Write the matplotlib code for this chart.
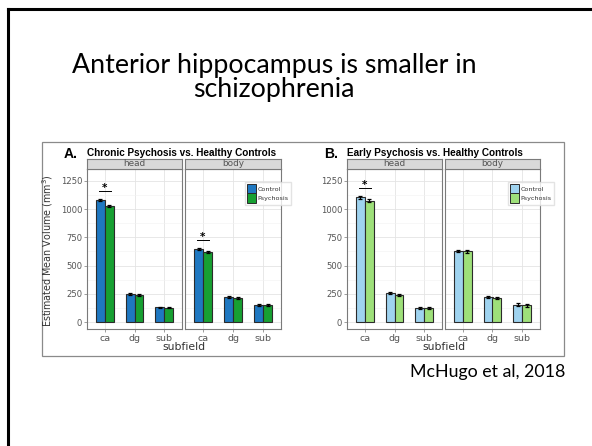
import matplotlib.pyplot as plt
from matplotlib.patches import Rectangle, Patch
from matplotlib.lines import Line2D
import numpy as np

# data (mm^3)
subfields = ["ca", "dg", "sub"]
regions = ["head", "body"]

chronic_head_control = [1080, 245, 130]
chronic_head_psychosis = [1030, 238, 128]
chronic_body_control = [645, 220, 150]
chronic_body_psychosis = [618, 215, 152]
chronic_head_err = [10, 8, 6]
chronic_body_err = [9, 7, 7]

early_head_control = [1105, 255, 128]
early_head_psychosis = [1075, 240, 122]
early_body_control = [630, 222, 155]
early_body_psychosis = [625, 212, 148]
early_head_err = [11, 9, 9]
early_body_err = [10, 10, 13]

# (region, subfield) pairs marked with a star
chronic_sig = [("head", "ca"), ("body", "ca")]
early_sig = [("head", "ca")]

W, H = 592, 446


def rect(x0, y0, x1, y1):
    return [x0 / W, 1 - y1 / H, (x1 - x0) / W, (y1 - y0) / H]


fig = plt.figure(figsize=(W / 100, H / 100), dpi=100)
fig.patch.set_facecolor("white")

# slide frame (top and left edges visible)
fig.add_artist(Line2D([8 / W, 8 / W], [0, 1 - 9 / H], color="black", lw=2.2))
fig.add_artist(Line2D([8 / W, 1], [1 - 9 / H, 1 - 9 / H], color="black", lw=2.2))

fig.text(274 / W, 1 - 66 / H, "Anterior hippocampus is smaller in",
         ha="center", va="center", fontsize=19.3, family="Lato")
fig.text(274 / W, 1 - 89 / H, "schizophrenia",
         ha="center", va="center", fontsize=19.3, family="Lato")
fig.text(565 / W, 1 - 372 / H, "McHugo et al, 2018",
         ha="right", va="center", fontsize=12.8, family="Lato")

# pasted figure box
fig.add_artist(Rectangle((42 / W, 1 - 356 / H), (564 - 42) / W, (356 - 142) / H,
                         transform=fig.transFigure, fill=False, ec="#8a8a8a", lw=0.9))

grey_txt = "#555555"


def draw_panel(x0, x1, region, control, psychosis, err, c_ctrl, c_psy, sig, yticks):
    ax = fig.add_axes(rect(x0, 169, x1, 329))
    x = np.arange(len(subfields))
    w = 0.3
    ekw = dict(elinewidth=0.9, ecolor="black", capsize=1.6, capthick=0.9)
    ax.bar(x - w / 2, control, w, yerr=err, color=c_ctrl, edgecolor="#2b2b2b",
           lw=0.8, error_kw=ekw, zorder=3)
    ax.bar(x + w / 2, psychosis, w, yerr=err, color=c_psy, edgecolor="#2b2b2b",
           lw=0.8, error_kw=ekw, zorder=3)
    for reg, sub in sig:
        if reg != region:
            continue
        i = subfields.index(sub)
        top = max(control[i], psychosis[i]) + 80
        ax.plot([i - 0.2, i + 0.2], [top, top], color="black", lw=0.7, zorder=4)
        ax.text(i, top - 15, "*", ha="center", va="bottom", fontsize=7.5,
                fontweight="bold", zorder=4)
    ax.set_xlim(-0.6, 2.6)
    ax.set_ylim(-62, 1356)
    ax.set_xticks(x)
    ax.set_xticklabels(subfields)
    ax.set_yticks(np.arange(0, 1251, 250))
    ax.set_yticks(np.arange(125, 1300, 250), minor=True)
    ax.set_xticks([], minor=True)
    ax.grid(True, which="major", color="#e4e4e4", lw=0.6, zorder=0)
    ax.grid(True, which="minor", axis="y", color="#f2f2f2", lw=0.4, zorder=0)
    ax.tick_params(axis="y", which="major", labelsize=6.1, colors="#777777",
                   labelcolor=grey_txt, length=2, width=0.5, pad=1.5)
    ax.tick_params(axis="x", which="major", labelsize=6.8, colors="#777777",
                   labelcolor=grey_txt, length=2, width=0.5, pad=1.5)
    ax.tick_params(axis="both", which="minor", length=0)
    if not yticks:
        ax.tick_params(axis="y", left=False, labelleft=False)
    for s in ax.spines.values():
        s.set_color("#7a7a7a")
        s.set_linewidth(0.8)
    # facet strip
    st = fig.add_axes(rect(x0, 159, x1, 169))
    st.set_facecolor("#d9d9d9")
    st.set_xticks([])
    st.set_yticks([])
    for s in st.spines.values():
        s.set_color("#7a7a7a")
        s.set_linewidth(0.8)
    st.text(0.5, 0.5, region, ha="center", va="center", fontsize=6.4,
            color=grey_txt, transform=st.transAxes)
    return ax


def draw_figure(x_head, x_body, label, title, data, errs, c_ctrl, c_psy, sig, legend_x):
    axes = []
    for (xa, xb), reg, (ctrl, psy), e, yt in zip([x_head, x_body], regions, data, errs,
                                                   [True, False]):
        axes.append(draw_panel(xa, xb, reg, ctrl, psy, e, c_ctrl, c_psy, sig, yt))
    fig.text((x_head[0] - 23) / W, 1 - 154 / H, label, fontsize=10,
             fontweight="bold", va="center", family="Liberation Sans")
    fig.text(x_head[0] / W, 1 - 153.5 / H, title, fontsize=7.2,
             fontweight="bold", va="center", family="Liberation Sans")
    fig.text((x_head[0] + x_body[1]) / 2 / W, 1 - 347 / H, "subfield",
             ha="center", va="center", fontsize=7.8, color="#333333")
    handles = [Patch(facecolor=c_ctrl, edgecolor="#2b2b2b", lw=0.7, label="Control"),
               Patch(facecolor=c_psy, edgecolor="#2b2b2b", lw=0.7, label="Psychosis")]
    leg = axes[1].legend(handles=handles, loc="upper left",
                         bbox_to_anchor=(legend_x / W, 1 - 182 / H),
                         bbox_transform=fig.transFigure, fontsize=4.6,
                         frameon=True, fancybox=False, edgecolor="#dddddd",
                         handlelength=1.4, handleheight=1.9, handletextpad=0.3,
                         borderpad=0.3, labelspacing=0.0, borderaxespad=0)
    leg.set_zorder(10)
    for t in leg.get_texts():
        t.set_color("#333333")
    return axes


draw_figure((87, 182), (185, 281), "A.", "Chronic Psychosis vs. Healthy Controls",
            [(chronic_head_control, chronic_head_psychosis),
             (chronic_body_control, chronic_body_psychosis)],
            [chronic_head_err, chronic_body_err],
            "#1f78c1", "#17a032", chronic_sig, 245)
draw_figure((347, 442), (445, 540), "B.", "Early Psychosis vs. Healthy Controls",
            [(early_head_control, early_head_psychosis),
             (early_body_control, early_body_psychosis)],
            [early_head_err, early_body_err],
            "#9fd3ef", "#9ee07a", early_sig, 508)

fig.text(48 / W, 1 - 251 / H, "Estimated Mean Volume (mm$^3$)", rotation=90,
         ha="center", va="center", fontsize=6.9, color="#333333")

fig.savefig("out.png", dpi=100)
